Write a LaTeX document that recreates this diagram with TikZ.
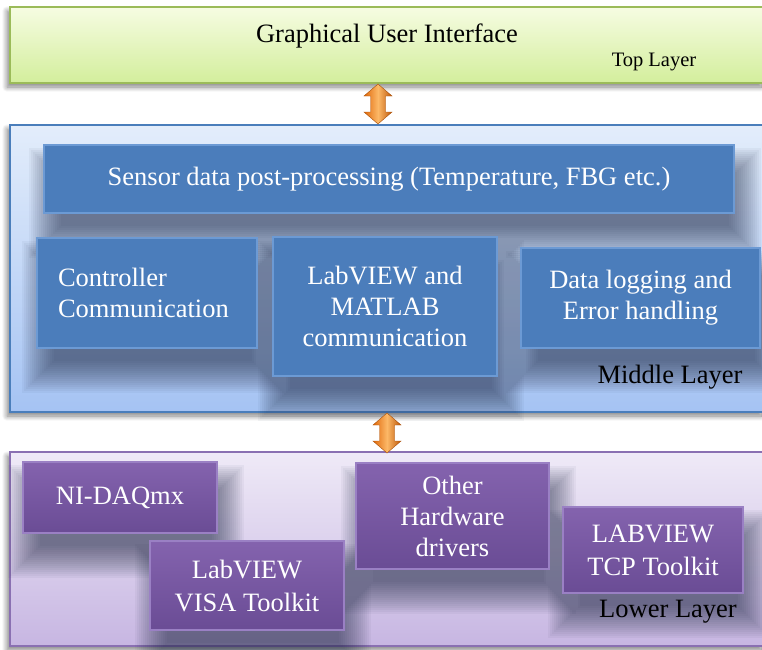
\documentclass[tikz,border=0pt]{standalone}
\usepackage{fontspec}
\setmainfont{Liberation Serif}
\usetikzlibrary{shadows.blur}
\pgfdeclarelayer{bg}
\pgfdeclarelayer{shad}
\pgfsetlayers{bg,shad,main}
\definecolor{gtop}{HTML}{F6FCE2}
\definecolor{gbot}{HTML}{D3EE9C}
\definecolor{gedge}{HTML}{9BBB59}
\definecolor{btop}{HTML}{E3EDFB}
\definecolor{bbot}{HTML}{A5C3F3}
\definecolor{bedge}{HTML}{4A7EBB}
\definecolor{ptop}{HTML}{EFEAF7}
\definecolor{pbot}{HTML}{C7B6E2}
\definecolor{pedge}{HTML}{8A70B2}
\definecolor{boxblue}{HTML}{4B7DBB}
\definecolor{boxblueedge}{HTML}{6C9AD4}
\definecolor{boxpt}{HTML}{8463AE}
\definecolor{boxpb}{HTML}{6A4C95}
\definecolor{boxpedge}{HTML}{9A80C4}
\definecolor{orA}{HTML}{FCB867}
\definecolor{orB}{HTML}{E0690B}
\definecolor{shadowcol}{HTML}{1A2440}
\begin{document}
\begin{tikzpicture}[x=1pt,y=-1pt,
  txt/.style={font=\fontsize{26.5}{31}\selectfont, inner sep=0pt},
  layerbox/.style={rectangle, inner sep=0pt, line width=1.6pt,
     blur shadow={shadow xshift=-3pt, shadow yshift=-4pt, shadow blur radius=5pt, shadow blur steps=12, shadow opacity=50}},
  bluebox/.style={rectangle, fill=boxblue, draw=boxblueedge, line width=1.2pt, text=white,
     font=\fontsize{26.5}{31}\selectfont, align=center, inner sep=0pt},
  purplebox/.style={rectangle, top color=boxpt, bottom color=boxpb, draw=boxpedge, line width=1.2pt, text=white,
     font=\fontsize{26.5}{31}\selectfont, align=center, inner sep=0pt},
  softshadow/.style={fill=shadowcol, opacity=0.045},
  arrowfill/.style={left color=orB, right color=orB!85!black, middle color=orA, draw=orB!75!black, line width=0.4pt},
  pics/dblarr/.style={code={
     \path[arrowfill] (0,-20) -- (14,-8) -- (7.5,-8) -- (7.5,8) -- (14,8) -- (0,20)
        -- (-14,8) -- (-7.5,8) -- (-7.5,-8) -- (-14,-8) -- cycle;}}
]
\useasboundingbox (0,0) rectangle (762,649);

% layers
\begin{pgfonlayer}{bg}
\node[layerbox, top color=gtop, bottom color=gbot, draw=gedge, minimum width=754pt, minimum height=76pt] (toplayer) at (387,45) {};
\node[layerbox, top color=btop, bottom color=bbot, draw=bedge, minimum width=754pt, minimum height=287pt] (midlayer) at (387,268.5) {};
\node[layerbox, top color=ptop, bottom color=pbot, draw=pedge, minimum width=754pt, minimum height=194pt] (lowlayer) at (387,549) {};
\end{pgfonlayer}

% arrows between layers
\coordinate (arr1) at (378,104);
\coordinate (arr2) at (387,433);
\pic at (arr1) {dblarr};
\pic at (arr2) {dblarr};

% top labels
\node[txt] (gui) at (387,36) {Graphical User Interface};
\node[txt, font=\fontsize{20.5}{24}\selectfont] (toplbl) at (654,62) {Top Layer};

% middle boxes
\node[bluebox, minimum width=690pt, minimum height=68pt] (sensor) at (389,179) {Sensor data post-processing (Temperature, FBG etc.)};
\node[bluebox, minimum width=220pt, minimum height=110pt, text width=178pt, inner xsep=21pt, align=left] (ctrl) at (147,293) {Controller\\Communication};
\node[bluebox, minimum width=224pt, minimum height=139pt] (labmat) at (385,306.5) {LabVIEW and\\MATLAB\\communication};
\node[bluebox, minimum width=239pt, minimum height=100pt] (datalog) at (640.5,298) {Data logging and\\Error handling};
\node[txt] (midlbl) at (670,377) {Middle Layer};

% lower boxes
\node[purplebox, minimum width=194pt, minimum height=71pt] (nidaq) at (120,497.5) {NI-DAQmx};
\node[purplebox, minimum width=193pt, minimum height=106pt] (other) at (452.5,516) {Other\\Hardware\\drivers};
\node[purplebox, minimum width=194pt, minimum height=89pt, font=\fontsize{26.5}{33}\selectfont] (visa) at (247,585.5) {LabVIEW\\VISA Toolkit};
\node[purplebox, minimum width=180pt, minimum height=86pt, font=\fontsize{26.5}{33}\selectfont] (tcp) at (653,550) {LABVIEW\\TCP Toolkit};
\node[txt] (lowlbl) at (668,612) {Lower Layer};

% soft shadows of the boxes
\begin{pgfonlayer}{shad}
\foreach \n in {sensor,ctrl,labmat,datalog,nidaq,other,visa,tcp}{
  \foreach \r in {-12,-10,...,20}{
    \fill[softshadow] ([shift={(6-\r,24-\r)}]\n.north west) rectangle ([shift={(6+\r,24+\r)}]\n.south east);
  }
}
\end{pgfonlayer}
\end{tikzpicture}
\end{document}
